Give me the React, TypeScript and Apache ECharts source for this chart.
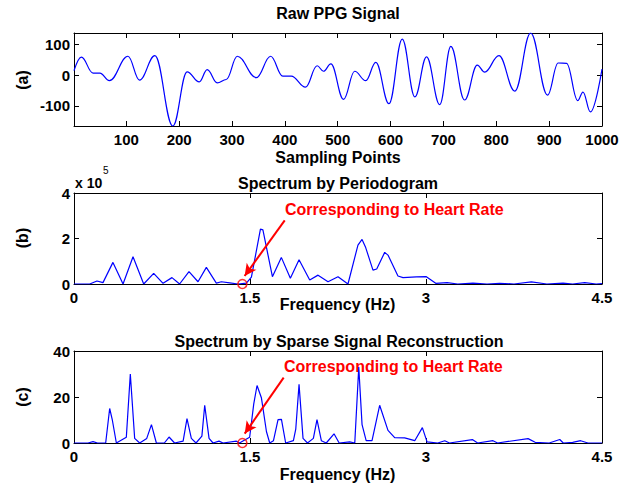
import React, { useEffect, useRef } from "react";
import * as echarts from "echarts";

// ---------- data ----------
// (a) raw PPG signal: [sample index, amplitude] at turning points
const ppgSignal: [number, number][] = [
  [1, 15], [15, 59], [37, 7], [50, 7], [68, -18], [103, 62], [125, -16], [154, 64],
  [188, -166], [215, 11], [238, -22], [253, 18], [272, -25], [289, -14], [310, 62],
  [346, -8], [373, 62], [396, -3], [412, -3], [439, -39], [461, 31], [473, 13],
  [487, 37], [511, -79], [532, 13], [553, -18], [572, 42], [597, -93], [622, 118],
  [646, -71], [668, 60], [693, -96], [714, 94], [740, -81], [764, 33], [778, 10],
  [805, 64], [835, -52], [865, 138], [897, -65], [917, 40], [933, 39], [954, -83],
  [964, -55], [978, -120], [1000, 20],
];
const ppgXTicks = [100, 200, 300, 400, 500, 600, 700, 800, 900, 1000];
const ppgYTicks = [-100, 0, 100];

// (b) periodogram: [frequency Hz, power x 1e5]
const periodogram: [number, number][] = [
  [0, 0], [0.134, 0], [0.196, 0.13], [0.247, 0.06], [0.332, 0.95], [0.418, 0],
  [0.503, 1.2], [0.594, 0], [0.679, 0.47], [0.759, 0.03], [0.835, 0.28], [0.9, 0],
  [0.98, 0.54], [1.057, 0.1], [1.128, 0.73], [1.213, 0.04], [1.256, 0.1], [1.327, 0.05],
  [1.398, 0], [1.469, 0.04], [1.512, 0.3], [1.589, 2.41], [1.61, 2.38], [1.691, 0.32],
  [1.767, 1.17], [1.844, 0.25], [1.918, 1.07], [2.009, 0.18], [2.08, 0.39], [2.165, 0.1],
  [2.25, 0.32], [2.335, 0], [2.42, 1.71], [2.455, 1.96], [2.486, 1.6], [2.548, 0.61],
  [2.58, 0.66], [2.648, 1.39], [2.676, 1.27], [2.761, 0.35], [2.804, 0.28], [2.918, 0.31],
  [3.003, 0.32], [3.083, 0.03], [3.18, 0.06], [3.27, 0], [3.4, 0.04], [3.52, 0],
  [3.628, 0.03], [3.75, 0], [3.898, 0.09], [4.03, 0], [4.168, 0.04], [4.25, 0],
  [4.353, 0.06], [4.45, 0], [4.5, 0.02],
];

// (c) sparse reconstruction spectrum: [frequency Hz, magnitude]
const sparseSpectrum: [number, number][] = [
  [0, 0], [0.12, 0], [0.162, 0.6], [0.2, 0], [0.27, 0], [0.304, 15], [0.327, 9.9],
  [0.361, 0], [0.446, 2.5], [0.48, 30], [0.517, 2], [0.56, 0], [0.62, 2], [0.66, 8],
  [0.702, 0], [0.77, 0], [0.81, 2.6], [0.857, 0], [0.93, 0.8], [0.963, 10.6], [1.0, 2],
  [1.04, 0], [1.09, 3], [1.114, 16.4], [1.151, 2], [1.185, 0], [1.236, 0.8], [1.27, 0],
  [1.384, 0.8], [1.41, 0], [1.497, 2.5], [1.532, 17], [1.56, 25], [1.597, 19.7],
  [1.64, 5], [1.668, 0], [1.7, 1], [1.739, 10.2], [1.768, 10.3], [1.804, 0], [1.87, 1],
  [1.89, 6], [1.918, 25.5], [1.952, 2], [1.99, 0], [2.04, 2], [2.071, 10.2], [2.108, 1],
  [2.15, 0], [2.216, 4], [2.26, 0], [2.35, 0.5], [2.393, 0], [2.427, 33], [2.455, 8],
  [2.49, 1], [2.54, 1], [2.605, 16.4], [2.676, 5.5], [2.733, 2.3], [2.818, 2.2],
  [2.904, 1], [2.969, 6.7], [3.009, 0.5], [3.1, 0], [3.16, 1], [3.2, 0], [3.395, 1.5],
  [3.44, 0], [3.571, 1], [3.61, 0], [3.87, 1.9], [3.93, 0.3], [4.05, 0], [4.14, 1.5],
  [4.17, 0], [4.25, 0.3], [4.318, 1], [4.38, 0], [4.5, 0],
];
const freqTicks = [0, 1.5, 3, 4.5];
const periodogramYTicks = [0, 2, 4];
const sparseYTicks = [0, 20, 40];

// heart-rate annotation
const heartRateHz = 1.435;
const arrowB: [number, number][] = [[1.796, 2.8], [1.454, 0.35]];
const arrowC: [number, number][] = [[1.787, 28.4], [1.455, 4.1]];

// ---------- styling ----------
const FONT = "'Liberation Sans', Arial, Helvetica, sans-serif";
const BLUE = "#0000ff";
const RED = "#ff0000";

const grids = [
  { left: 74, top: 33, width: 528, height: 93 },
  { left: 74, top: 193, width: 528, height: 91 },
  { left: 74, top: 351, width: 528, height: 92 },
];

function makeAxis(
  dim: "x" | "y",
  gridIndex: number,
  min: number,
  max: number,
  ticks: number[],
  main: boolean
) {
  return {
    type: "value",
    gridIndex,
    min,
    max,
    position: dim === "x" ? (main ? "bottom" : "top") : main ? "left" : "right",
    axisLine: { show: true, onZero: false, lineStyle: { color: "#000", width: 1 } },
    axisTick: {
      show: true,
      inside: true,
      length: 5,
      customValues: ticks,
      lineStyle: { color: "#000", width: 1 },
    },
    axisLabel: {
      show: main,
      customValues: ticks,
      formatter: (v: number) => String(v),
      color: "#000",
      fontSize: 15,
      fontWeight: "bold",
      fontFamily: FONT,
      margin: dim === "x" ? 6 : 4,
      showMinLabel: true,
      showMaxLabel: true,
    },
    splitLine: { show: false },
  };
}

function txt(x: number, y: number, text: string, extra: any = {}, rotation = 0) {
  return {
    type: "text",
    x,
    y,
    rotation,
    silent: true,
    style: {
      text,
      fill: "#000",
      fontSize: 16,
      fontWeight: "bold",
      fontFamily: FONT,
      align: "center",
      verticalAlign: "middle",
      ...extra,
    },
  };
}

function hrMarker(idx: number, arrow: [number, number][]) {
  return {
    type: "scatter",
    xAxisIndex: idx,
    yAxisIndex: idx,
    data: [[heartRateHz, 0]],
    symbol: "circle",
    symbolSize: 9,
    clip: false,
    z: 5,
    itemStyle: { color: "rgba(0,0,0,0)", borderColor: RED, borderWidth: 1.6 },
    markLine: {
      silent: true,
      symbol: ["none", "arrow"],
      symbolSize: [9, 12],
      label: { show: false },
      lineStyle: { color: RED, width: 2, type: "solid" },
      data: [[{ coord: arrow[0] }, { coord: arrow[1] }]],
    },
  };
}

export default function App() {
  const ref = useRef<HTMLDivElement>(null);

  useEffect(() => {
    document.body.style.margin = "0";
    if (!ref.current) return;
    const chart = echarts.init(ref.current, undefined, { renderer: "svg" });

    const option: any = {
      animation: false,
      backgroundColor: "#fff",
      grid: grids.map((g) => ({ ...g, containLabel: false })),
      xAxis: [
        makeAxis("x", 0, 1, 1000, ppgXTicks, true),
        makeAxis("x", 0, 1, 1000, ppgXTicks, false),
        makeAxis("x", 1, 0, 4.5, freqTicks, true),
        makeAxis("x", 1, 0, 4.5, freqTicks, false),
        makeAxis("x", 2, 0, 4.5, freqTicks, true),
        makeAxis("x", 2, 0, 4.5, freqTicks, false),
      ],
      yAxis: [
        makeAxis("y", 0, -166, 138, ppgYTicks, true),
        makeAxis("y", 0, -166, 138, ppgYTicks, false),
        makeAxis("y", 1, 0, 4, periodogramYTicks, true),
        makeAxis("y", 1, 0, 4, periodogramYTicks, false),
        makeAxis("y", 2, 0, 40, sparseYTicks, true),
        makeAxis("y", 2, 0, 40, sparseYTicks, false),
      ],
      series: [
        {
          type: "line",
          xAxisIndex: 0,
          yAxisIndex: 0,
          data: ppgSignal,
          showSymbol: false,
          smooth: 0.4,
          smoothMonotone: "x",
          lineStyle: { color: BLUE, width: 1.2 },
        },
        {
          type: "line",
          xAxisIndex: 2,
          yAxisIndex: 2,
          data: periodogram,
          showSymbol: false,
          lineStyle: { color: BLUE, width: 1.2 },
        },
        {
          type: "line",
          xAxisIndex: 4,
          yAxisIndex: 4,
          data: sparseSpectrum,
          showSymbol: false,
          lineStyle: { color: BLUE, width: 1.2 },
        },
        hrMarker(2, arrowB),
        hrMarker(4, arrowC),
      ],
      graphic: [
        txt(338, 13, "Raw PPG Signal"),
        txt(338, 157, "Sampling Points"),
        txt(22, 80, "(a)", {}, Math.PI / 2),
        txt(75, 183, "x 10", { align: "left", fontSize: 14 }),
        txt(103, 170, "5", { align: "left", fontSize: 10, fontWeight: "normal" }),
        txt(338, 183, "Spectrum by Periodogram"),
        txt(285, 209.5, "Corresponding to Heart Rate", { align: "left", fill: RED }),
        txt(337.5, 304, "Frequency (Hz)"),
        txt(22, 238, "(b)", {}, Math.PI / 2),
        txt(339, 341, "Spectrum by Sparse Signal Reconstruction"),
        txt(284, 366, "Corresponding to Heart Rate", { align: "left", fill: RED }),
        txt(337.5, 474, "Frequency (Hz)"),
        txt(22, 397, "(c)", {}, Math.PI / 2),
      ],
    };

    chart.setOption(option);
    return () => chart.dispose();
  }, []);

  return <div ref={ref} style={{ width: 631, height: 487 }} />;
}
